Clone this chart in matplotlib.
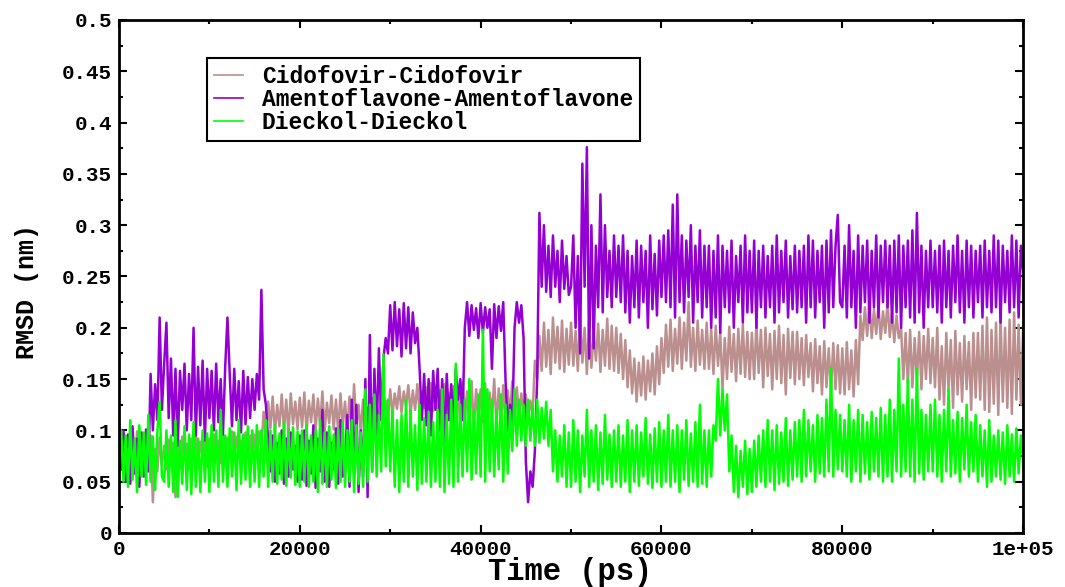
import numpy as np
import matplotlib
matplotlib.use("Agg")
import matplotlib.pyplot as plt
from matplotlib.ticker import MultipleLocator, FuncFormatter

# trajectory time in ps, one frame every 250 ps
time_ps = np.arange(0, 100001, 250)

# RMSD in units of 0.001 nm, one row per 5 ns
cidofovir = [
    88, 62, 97, 55, 92, 70, 84, 58, 99, 64, 90, 57, 86, 72, 95, 30, 82, 60, 93, 66,
    85, 62, 91, 70, 88, 35, 90, 66, 94, 72, 87, 63, 92, 70, 95, 68, 89, 74, 93, 65,
    92, 70, 96, 75, 90, 68, 97, 73, 93, 80, 99, 71, 94, 76, 90, 69, 98, 74, 95, 72,
    96, 75, 99, 80, 118, 95, 128, 102, 133, 98, 125, 104, 135, 100, 130, 97, 136, 106, 128, 101,
    132, 103, 137, 98, 129, 108, 135, 100, 131, 105, 138, 99, 127, 107, 134, 101, 130, 98, 136, 104,
    128, 99, 133, 96, 145, 104, 125, 97, 130, 106, 122, 95, 131, 103, 126, 108, 134, 112, 129, 110,
    140, 115, 136, 121, 143, 117, 138, 124, 144, 116, 139, 120, 145, 118, 137, 122, 142, 114, 146, 119,
    142, 112, 139, 118, 145, 106, 136, 113, 143, 109, 141, 104, 147, 111, 138, 107, 148, 102, 140, 110,
    140, 108, 146, 101, 137, 112, 150, 104, 141, 110, 144, 102, 139, 115, 148, 106, 142, 112, 136, 118,
    135, 112, 129, 115, 168, 150, 192, 158, 205, 162, 198, 155, 210, 166, 201, 160, 207, 157, 199, 164,
    205, 163, 197, 158, 210, 166, 200, 155, 207, 161, 195, 168, 204, 157, 198, 163, 209, 160, 202, 158,
    200, 156, 194, 150, 188, 142, 178, 136, 170, 128, 166, 134, 172, 130, 168, 138, 175, 135, 182, 145,
    190, 156, 203, 162, 208, 158, 199, 165, 210, 160, 205, 168, 225, 162, 200, 158, 207, 164, 198, 160,
    205, 160, 199, 155, 202, 163, 196, 140, 190, 150, 201, 157, 194, 148, 199, 155, 203, 152, 196, 150,
    195, 150, 205, 156, 198, 142, 200, 153, 194, 140, 197, 150, 202, 146, 193, 135, 199, 151, 196, 145,
    196, 150, 190, 144, 193, 152, 185, 138, 189, 146, 182, 135, 187, 142, 180, 138, 185, 140, 183, 136,
    180, 135, 186, 140, 178, 133, 188, 145, 212, 188, 220, 192, 225, 190, 218, 194, 222, 189, 216, 195,
    224, 191, 215, 186, 212, 190, 200, 150, 195, 145, 198, 142, 190, 148, 196, 140, 192, 150, 199, 146,
    190, 142, 200, 130, 182, 125, 195, 138, 188, 122, 197, 135, 185, 128, 192, 140, 186, 120, 195, 132,
    195, 130, 202, 120, 210, 118, 198, 126, 205, 115, 212, 128, 200, 122, 208, 116, 215, 130, 203, 125,
    200,
]

amentoflavone = [
    105, 62, 100, 50, 96, 48, 104, 58, 92, 45, 98, 55, 101, 60, 155, 100, 145, 110, 210, 120,
    165, 205, 112, 170, 95, 160, 85, 158, 120, 165, 100, 155, 110, 200, 95, 162, 105, 168, 90, 160,
    112, 158, 100, 165, 108, 150, 96, 162, 210, 155, 104, 160, 110, 148, 98, 158, 106, 152, 112, 150,
    120, 155, 130, 237, 140, 125, 90, 60, 95, 50, 88, 58, 100, 48, 92, 55, 98, 62, 85, 50,
    95, 52, 100, 46, 90, 58, 105, 44, 92, 60, 120, 50, 98, 45, 88, 62, 102, 48, 110, 55,
    70, 115, 45, 130, 60, 125, 40, 100, 55, 150, 35, 193, 60, 160, 95, 180, 110, 170, 190, 175,
    222, 178, 225, 182, 218, 172, 224, 180, 220, 175, 215, 185, 200, 160, 110, 155, 105, 150, 95, 158,
    120, 160, 100, 150, 85, 155, 110, 145, 100, 160, 130, 150, 110, 200, 225, 192, 222, 198, 219, 190,
    224, 195, 220, 200, 218, 160, 223, 190, 221, 197, 225, 150, 100, 125, 105, 200, 225, 205, 222, 190,
    70, 30, 60, 45, 80, 150, 312, 240, 300, 235, 280, 230, 290, 240, 275, 225, 285, 238, 270, 232,
    240, 290, 200, 270, 175, 360, 240, 376, 170, 300, 180, 280, 220, 330, 215, 300, 230, 275, 220, 290,
    230, 280, 225, 290, 215, 275, 205, 270, 220, 285, 210, 280, 225, 275, 200, 290, 218, 272, 212, 285,
    230, 290, 225, 295, 220, 320, 210, 330, 225, 290, 215, 285, 230, 300, 205, 280, 225, 295, 210, 280,
    220, 280, 200, 275, 210, 290, 195, 280, 220, 275, 215, 285, 200, 270, 225, 280, 205, 290, 215, 275,
    215, 285, 200, 275, 220, 280, 210, 270, 220, 280, 205, 290, 215, 275, 225, 285, 210, 270, 218, 280,
    215, 275, 220, 280, 205, 290, 220, 285, 210, 275, 225, 280, 200, 285, 215, 295, 220, 280, 310, 225,
    220, 280, 210, 300, 220, 275, 200, 290, 215, 280, 225, 285, 205, 275, 220, 290, 210, 280, 225, 285,
    220, 280, 205, 285, 215, 290, 200, 280, 220, 285, 210, 295, 205, 312, 215, 280, 200, 275, 220, 285,
    220, 275, 215, 280, 205, 285, 220, 275, 210, 280, 225, 290, 215, 275, 205, 285, 220, 280, 210, 275,
    225, 280, 210, 285, 220, 275, 215, 290, 220, 285, 205, 280, 225, 275, 215, 290, 220, 285, 210, 280,
    255,
]

dieckol = [
    60, 100, 50, 95, 45, 110, 52, 92, 40, 105, 55, 98, 47, 115, 50, 94, 42, 100, 128, 55,
    50, 100, 45, 95, 40, 110, 35, 90, 48, 104, 42, 96, 38, 108, 45, 92, 40, 100, 50, 97,
    40, 105, 50, 100, 45, 120, 50, 95, 45, 102, 55, 98, 42, 110, 48, 96, 52, 104, 45, 100,
    50, 105, 45, 100, 55, 110, 45, 100, 50, 105, 48, 97, 52, 108, 46, 100, 54, 103, 47, 99,
    45, 100, 50, 105, 45, 95, 50, 100, 40, 110, 48, 98, 45, 104, 52, 96, 44, 102, 50, 108,
    45, 100, 50, 110, 40, 105, 48, 98, 45, 140, 50, 125, 60, 135, 55, 115, 60, 174, 65, 130,
    60, 120, 45, 110, 40, 115, 50, 130, 45, 120, 55, 105, 42, 125, 48, 112, 50, 118, 45, 108,
    50, 120, 45, 140, 40, 115, 48, 130, 45, 165, 50, 125, 55, 130, 60, 150, 52, 120, 58, 135,
    55, 198, 50, 140, 60, 130, 55, 120, 62, 135, 50, 125, 58, 120, 80, 140, 85, 130, 90, 125,
    85, 130, 90, 125, 85, 130, 88, 122, 92, 128, 85, 120, 60, 100, 50, 95, 55, 105, 45, 98,
    45, 110, 50, 100, 40, 95, 55, 120, 45, 100, 50, 105, 42, 98, 48, 115, 52, 96, 45, 100,
    50, 105, 45, 95, 50, 110, 40, 100, 50, 105, 46, 98, 55, 112, 48, 96, 44, 102, 50, 108,
    45, 100, 50, 115, 45, 100, 50, 105, 40, 100, 52, 110, 46, 97, 50, 108, 45, 125, 48, 100,
    45, 100, 55, 105, 90, 150, 95, 140, 100, 135, 60, 95, 40, 85, 35, 80, 45, 90, 38, 82,
    40, 90, 45, 95, 50, 100, 45, 110, 50, 100, 42, 105, 48, 98, 50, 112, 46, 100, 52, 108,
    55, 110, 50, 120, 55, 110, 60, 105, 50, 115, 58, 112, 55, 130, 60, 160, 55, 120, 62, 115,
    60, 110, 55, 125, 50, 110, 60, 120, 50, 115, 58, 108, 52, 118, 60, 112, 55, 122, 50, 115,
    55, 130, 50, 120, 60, 170, 55, 125, 60, 150, 55, 130, 50, 160, 58, 120, 52, 115, 60, 125,
    60, 130, 55, 115, 50, 120, 60, 140, 55, 110, 58, 118, 50, 112, 62, 125, 55, 108, 60, 115,
    50, 105, 55, 100, 45, 110, 50, 95, 55, 100, 52, 98, 48, 105, 55, 96, 50, 102, 58, 95,
    70,
]

labels = ["Cidofovir-Cidofovir", "Amentoflavone-Amentoflavone", "Dieckol-Dieckol"]
colors = ["#bc8f8f", "#9400d3", "#00ff00"]

font = "Liberation Mono"

fig = plt.figure(figsize=(10.65, 5.87), dpi=100)
ax = fig.add_axes([0.1117, 0.092, 0.849, 0.874])

for series, label, color in zip([cidofovir, amentoflavone, dieckol], labels, colors):
    ax.plot(time_ps, np.array(series) / 1000.0, color=color, lw=1.8, label=label)

ax.set_xlim(0, 100000)
ax.set_ylim(0, 0.5)
ax.xaxis.set_major_locator(MultipleLocator(20000))
ax.xaxis.set_minor_locator(MultipleLocator(10000))
ax.yaxis.set_major_locator(MultipleLocator(0.05))
ax.yaxis.set_minor_locator(MultipleLocator(0.025))
ax.xaxis.set_major_formatter(FuncFormatter(lambda v, p: "%.5g" % v))
ax.yaxis.set_major_formatter(FuncFormatter(lambda v, p: "%g" % round(v, 3)))

ax.tick_params(which="both", direction="in", top=True, right=True, width=1.5)
ax.tick_params(which="major", length=6, pad=5)
ax.tick_params(which="minor", length=3)
for lab in ax.get_xticklabels() + ax.get_yticklabels():
    lab.set_fontfamily(font)
    lab.set_fontweight("bold")
    lab.set_fontsize(15)
for sp in ax.spines.values():
    sp.set_linewidth(2)

ax.set_ylabel("RMSD (nm)", fontfamily=font, fontweight="bold", fontsize=18)
ax.yaxis.set_label_coords(-0.088, 0.47)
fig.text(0.535, 0.0, "Time (ps)", fontfamily=font, fontweight="bold",
         fontsize=22, ha="center", va="bottom")

leg = ax.legend(loc="upper left", bbox_to_anchor=(0.097, 0.926), handlelength=1.3,
                handletextpad=0.8, borderaxespad=0, borderpad=0.3, labelspacing=0.0,
                fancybox=False, framealpha=1, edgecolor="black",
                prop={"family": font, "weight": "bold", "size": 16.5})
leg.get_frame().set_linewidth(1.5)
for h in leg.get_lines():
    h.set_linewidth(1.2)

fig.savefig("out.png", dpi=100)
